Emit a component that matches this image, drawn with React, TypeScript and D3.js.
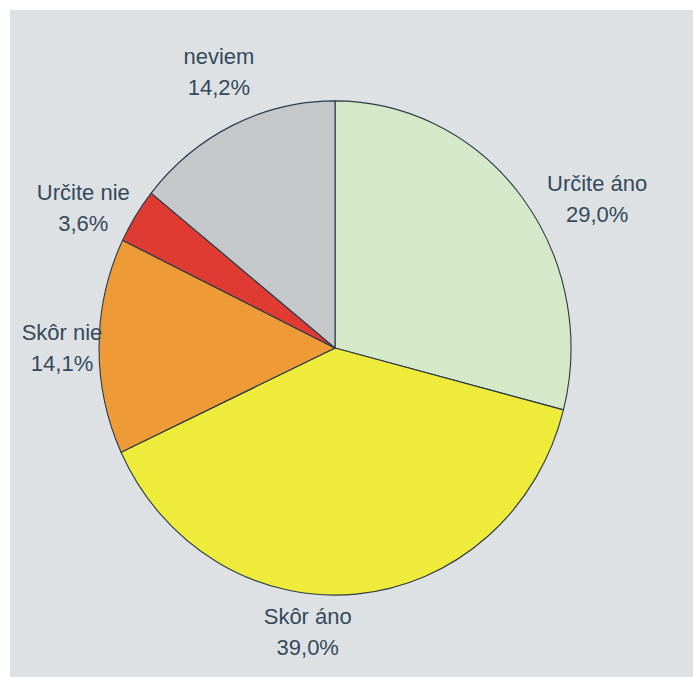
import React, { useRef, useEffect } from 'react';
import * as d3 from 'd3';

// slices, clockwise from 12 o'clock
const categories = ['Určite áno', 'Skôr áno', 'Skôr nie', 'Určite nie', 'neviem'];
const shares = [29.0, 39.0, 14.1, 3.6, 14.2];
const sliceColors = ['#d5e9c9', '#eeeb3b', '#ee9b37', '#e03b33', '#c5c8cb'];

// label placement tweaks (degrees around the pie, px along the radius), like the original spreadsheet did
const labelTurn = [9, 11, 0, -4, 2];
const labelPush = [14, -14, -12, 1, 5];

const formatPct = (v: number) => v.toFixed(1).replace('.', ',') + '%';

const PieChart: React.FC = () => {
  const svgRef = useRef<SVGSVGElement | null>(null);
  const width = 693;
  const height = 677;

  useEffect(() => {
    if (!svgRef.current) return;
    const svg = d3.select(svgRef.current);
    svg.selectAll('*').remove();

    // background panel
    svg.append('rect')
      .attr('x', 10)
      .attr('y', 10)
      .attr('width', width - 10)
      .attr('height', height - 10)
      .attr('fill', '#dde1e4');

    const cx = 335;
    const cy = 348;
    const radius = 236;
    const labelRadius = 285;
    const stretchY = 1.047; // the source picture is slightly taller than wide

    const data = categories.map((name, i) => ({ name, value: shares[i], color: sliceColors[i], i }));

    const pie = d3.pie<typeof data[number]>()
      .value(d => d.value)
      .sort(null);
    const arcs = pie(data);

    const arc = d3.arc<d3.PieArcDatum<typeof data[number]>>()
      .innerRadius(0)
      .outerRadius(radius);

    const g = svg.append('g')
      .attr('transform', `translate(${cx},${cy}) scale(1,${stretchY})`);

    g.selectAll('path')
      .data(arcs)
      .join('path')
      .attr('d', arc)
      .attr('fill', d => d.data.color)
      .attr('stroke', '#2b3a48')
      .attr('stroke-width', 1.1)
      .attr('stroke-linejoin', 'round');

    const labels = svg.append('g')
      .attr('transform', `translate(${cx},${cy})`);

    const labelPos = (d: d3.PieArcDatum<typeof data[number]>) => {
      const r = labelRadius + labelPush[d.data.i];
      const turn = (labelTurn[d.data.i] * Math.PI) / 180;
      const la = d3.arc<any>().innerRadius(r).outerRadius(r);
      return la.centroid({ startAngle: d.startAngle + turn, endAngle: d.endAngle + turn });
    };

    const lbl = labels.selectAll('g')
      .data(arcs)
      .join('g')
      .attr('transform', d => {
        const [x, y] = labelPos(d);
        return `translate(${x},${y * stretchY})`;
      });

    lbl.append('text')
      .attr('text-anchor', 'middle')
      .attr('y', -6)
      .attr('font-family', '"Liberation Sans", Arial, sans-serif')
      .attr('font-size', 22)
      .attr('fill', '#36495b')
      .text(d => d.data.name);

    lbl.append('text')
      .attr('text-anchor', 'middle')
      .attr('y', 25)
      .attr('font-family', '"Liberation Sans", Arial, sans-serif')
      .attr('font-size', 22)
      .attr('fill', '#36495b')
      .text(d => formatPct(d.data.value));

    return () => {
      d3.select(svgRef.current).selectAll('*').remove();
    };
  }, []);

  return <svg ref={svgRef} width={width} height={height} style={{ display: 'block' }}></svg>;
};

export default function App() {
  return (
    <div style={{ position: 'absolute', left: 0, top: 0, background: '#ffffff' }}>
      <PieChart />
    </div>
  );
}
